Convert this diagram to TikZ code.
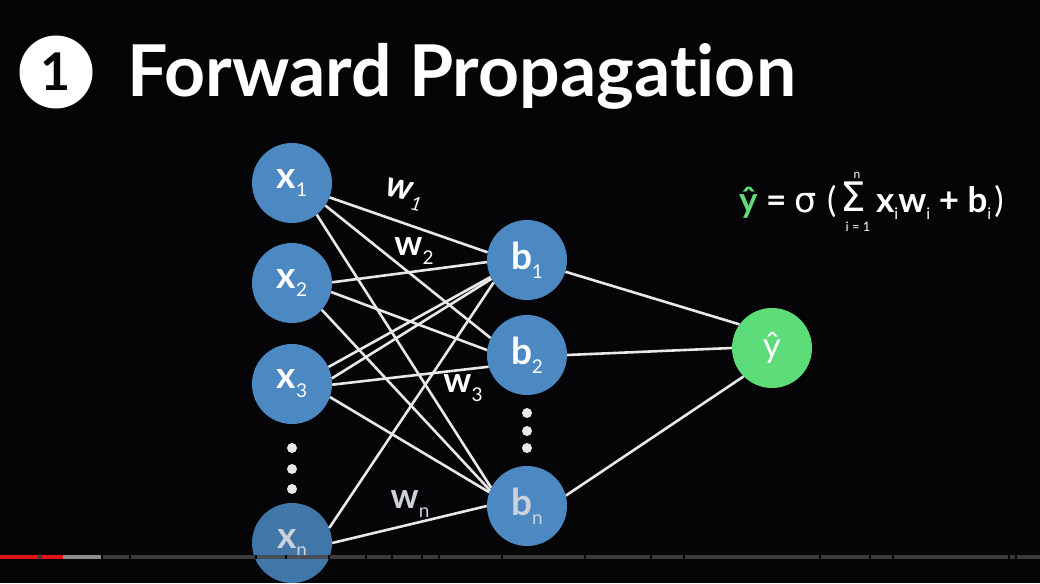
\documentclass[tikz,border=0pt]{standalone}
\usepackage{fontspec}
\setmainfont{Lato}[Ligatures=NoCommon]
\newfontfamily\symf{DejaVu Sans}
\definecolor{bgc}{RGB}{5,5,8}
\definecolor{nodeblue}{RGB}{76,137,194}
\definecolor{nodeblued}{RGB}{64,118,168}
\definecolor{ygreen}{RGB}{94,220,121}
\definecolor{edgec}{RGB}{232,232,232}
\definecolor{dimtxt}{RGB}{205,210,218}
\definecolor{bargray}{RGB}{70,70,72}
\definecolor{barlight}{RGB}{140,140,140}
\definecolor{barred}{RGB}{225,20,20}
\newcommand\sbx[1]{\raisebox{-0.24em}{\fontsize{19}{19}\selectfont\mdseries #1}}
\newcommand\fsb[1]{\raisebox{-0.2em}{\fontsize{16}{16}\selectfont\mdseries #1}}
\tikzset{
  neuron/.style={circle, fill=nodeblue, minimum size=80pt, inner sep=0pt, text=white,
    font=\fontsize{37}{37}\selectfont\bfseries},
  outneuron/.style={neuron, fill=ygreen, font=\fontsize{35}{35}\selectfont\mdseries},
  edge/.style={draw=edgec, line width=2.6pt},
  wlabel/.style={text=white, inner sep=0pt, font=\fontsize{35}{35}\selectfont\bfseries},
  vdot/.style={circle, fill=edgec, minimum size=10pt, inner sep=0pt},
  ftext/.style={text=white, inner sep=0pt, anchor=base west, font=\fontsize{35}{35}\selectfont\bfseries},
  limtext/.style={text=white, inner sep=0pt, anchor=base, font=\fontsize{12}{12}\selectfont\mdseries},
}
\begin{document}
\begin{tikzpicture}[x=1pt,y=-1pt]
\fill[bgc] (0,0) rectangle (1040,583);
\useasboundingbox (0,0) rectangle (1040,583);

% title
\node[circle, fill=white, minimum size=73pt, inner sep=0pt, text=bgc,
  font=\fontsize{52}{52}\selectfont\bfseries] (num) at (56,72) {1};
\node[anchor=base west, inner sep=0pt, text=white,
  font=\fontsize{71.5}{71.5}\selectfont\bfseries] (title) at (127,97) {Forward Propagation};

% neurons
\node[neuron] (x1) at (292,183) {x\sbx{1}};
\node[neuron] (x2) at (292,283) {x\sbx{2}};
\node[neuron] (x3) at (292,384) {x\sbx{3}};
\node[neuron, fill=nodeblued, text=dimtxt] (xn) at (292,543) {x\sbx{n}};
\node[neuron] (b1) at (527,260) {b\sbx{1}};
\node[neuron] (b2) at (527,355) {b\sbx{2}};
\node[neuron, text=dimtxt] (bn) at (527,506) {b\sbx{n}};
\node[outneuron] (y) at (772,348) {ŷ};

% dots
\node[vdot] (dx1) at (292,448) {};
\node[vdot] (dx2) at (292,469) {};
\node[vdot] (dx3) at (292,489) {};
\node[vdot] (db1) at (527,413) {};
\node[vdot] (db2) at (527,431) {};
\node[vdot] (db3) at (527,448) {};

% edges input -> hidden
\draw[edge] (x1.-21) -- (b1.169);
\draw[edge] (x1.-34) -- (b2.155);
\draw[edge] (x1.-52) -- (bn.153);
\draw[edge] (x2.1) -- (b1.183);
\draw[edge] (x2.-13) -- (b2.173);
\draw[edge] (x2.-42) -- (bn.157);
\draw[edge] (x3.25) -- (b1.205);
\draw[edge] (x3.8) -- (b1.208);
\draw[edge] (x3.-1) -- (b2.197);
\draw[edge] (x3.-19) -- (bn.160);
\draw[edge] (xn.22) -- (b1.214);
\draw[edge] (xn.0) -- (bn.180);
% hidden -> output
\draw[edge] (b1.-17) -- (y.144);
\draw[edge] (b2.0) -- (y.180);
\draw[edge] (bn.15) -- (y.225);

% weight labels
\node[wlabel, rotate=-12, font=\fontsize{36}{36}\selectfont\bfseries\itshape] (w1) at (404,195) {w\hspace{1pt}\sbx{1}};
\node[wlabel] (w2) at (414,251) {w\sbx{2}};
\node[wlabel] (w3) at (463,388) {w\sbx{3}};
\node[wlabel, text=dimtxt] (wn) at (410,504) {w\sbx{n}};

% formula
\node[ftext] (f1) at (739,212) {\textcolor{ygreen}{ŷ} = {\mdseries\symf σ}\hspace{10pt}{\mdseries(}};
\node[text=white, inner sep=0pt, anchor=base west, scale=1.45, transform shape,
  font=\symf\fontsize{28}{28}\selectfont] (sig) at (840,211) {Σ};
\node[limtext] (lup) at (857,178) {n};
\node[limtext, font=\fontsize{13}{13}\selectfont\mdseries] (ldn) at (858,231) {i = 1};
\node[ftext] (f2) at (876,212) {x\fsb{i}w\fsb{i} + b\fsb{i}\hspace{3pt}{\mdseries)}};

% video progress bar
\fill[bargray, opacity=0.85] (0,555) rectangle (1040,559);
\fill[barlight] (63,555) rectangle (101,559);
\fill[barred] (0,555) rectangle (38,559);
\fill[barred] (42,555) rectangle (63,559);
\foreach \gx in {101,129,255,285,328,365,391,421,438,501,584,650,683,819,869,892,1008,1015}
  \fill[bgc] (\gx,555) rectangle (\gx+2,559);
\end{tikzpicture}
\end{document}
